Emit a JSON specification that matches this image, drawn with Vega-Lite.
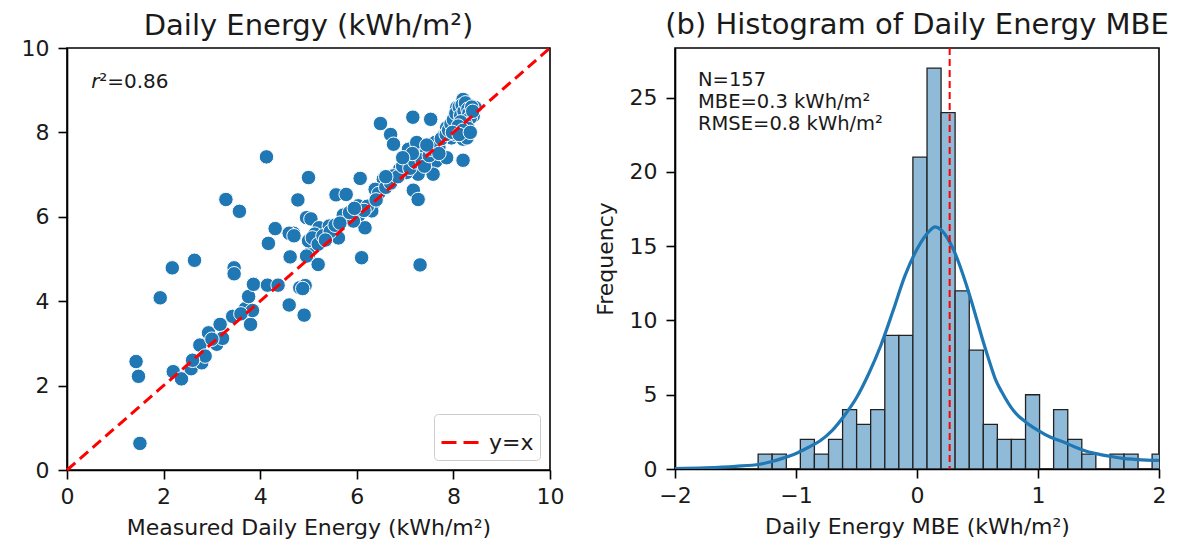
{
  "$schema": "https://vega.github.io/schema/vega-lite/v6.json",
  "padding": {"left": 20, "top": 10, "right": 6, "bottom": 5},
  "background": "white",
  "config": {
    "font": "DejaVu Sans",
    "view": {"stroke": "black", "strokeWidth": 1.6},
    "axis": {
      "labelFont": "DejaVu Sans", "labelFontSize": 22, "labelColor": "#1a1a1a", "labelFlush": false,
      "titleFont": "DejaVu Sans", "titleFontSize": 22, "titleFontWeight": "normal", "titleColor": "#1a1a1a",
      "tickColor": "black", "tickSize": 9, "tickWidth": 1.6,
      "domainColor": "black", "domainWidth": 1.6, "grid": false
    },
    "axisX": {"labelPadding": 7, "titlePadding": 10},
    "axisY": {"labelPadding": 9, "titlePadding": 12},
    "title": {"font": "DejaVu Sans", "fontSize": 29, "fontWeight": "normal", "color": "#1a1a1a", "offset": -4, "frame": "group"},
    "legend": {
      "orient": "bottom-right", "offset": 10, "fillColor": "white", "strokeColor": "#cccccc",
      "cornerRadius": 4, "padding": 6, "symbolType": "stroke", "symbolStrokeWidth": 3,
      "symbolDash": [15, 7], "symbolSize": 1764, "labelFont": "DejaVu Sans", "labelFontSize": 22,
      "labelColor": "#1a1a1a", "title": null
    }
  },
  "datasets": {
    "scatter": [
      {"m": 1.43, "p": 2.57}, {"m": 1.48, "p": 2.22}, {"m": 1.51, "p": 0.63}, {"m": 1.93, "p": 4.08},
      {"m": 2.18, "p": 4.79}, {"m": 2.64, "p": 4.97}, {"m": 2.20, "p": 2.33}, {"m": 2.37, "p": 2.16},
      {"m": 2.57, "p": 2.40}, {"m": 2.75, "p": 2.96}, {"m": 2.79, "p": 2.54}, {"m": 2.86, "p": 2.70},
      {"m": 2.93, "p": 3.25}, {"m": 3.10, "p": 2.98}, {"m": 3.17, "p": 3.45}, {"m": 3.22, "p": 3.12},
      {"m": 3.43, "p": 3.64}, {"m": 3.46, "p": 4.79}, {"m": 3.46, "p": 4.65}, {"m": 3.69, "p": 3.82},
      {"m": 3.76, "p": 4.11}, {"m": 3.80, "p": 3.45}, {"m": 3.84, "p": 3.78}, {"m": 3.86, "p": 4.40},
      {"m": 4.15, "p": 4.38}, {"m": 4.37, "p": 4.38}, {"m": 4.60, "p": 3.91}, {"m": 4.62, "p": 5.05},
      {"m": 4.82, "p": 4.32}, {"m": 4.91, "p": 3.67}, {"m": 4.93, "p": 4.37}, {"m": 5.00, "p": 5.11},
      {"m": 4.13, "p": 7.42}, {"m": 3.29, "p": 6.41}, {"m": 3.57, "p": 6.13}, {"m": 4.31, "p": 5.72},
      {"m": 4.69, "p": 5.61}, {"m": 4.60, "p": 5.61}, {"m": 4.17, "p": 5.37}, {"m": 4.78, "p": 6.40},
      {"m": 5.00, "p": 6.93}, {"m": 4.96, "p": 5.98}, {"m": 5.00, "p": 5.43}, {"m": 4.88, "p": 4.30},
      {"m": 6.49, "p": 8.21}, {"m": 6.70, "p": 7.95}, {"m": 6.76, "p": 7.72}, {"m": 7.16, "p": 8.36},
      {"m": 7.53, "p": 8.31}, {"m": 7.07, "p": 7.60}, {"m": 7.24, "p": 7.76}, {"m": 7.31, "p": 7.44},
      {"m": 7.45, "p": 7.56}, {"m": 7.62, "p": 7.76}, {"m": 7.64, "p": 7.32}, {"m": 7.86, "p": 7.40},
      {"m": 8.20, "p": 7.34}, {"m": 7.58, "p": 7.01}, {"m": 7.27, "p": 7.01}, {"m": 7.03, "p": 7.05},
      {"m": 6.89, "p": 7.13}, {"m": 6.76, "p": 6.97}, {"m": 6.55, "p": 6.89}, {"m": 6.38, "p": 6.65},
      {"m": 7.17, "p": 6.63}, {"m": 7.27, "p": 6.41}, {"m": 6.07, "p": 6.91}, {"m": 5.57, "p": 6.52},
      {"m": 5.78, "p": 6.53}, {"m": 6.03, "p": 6.26}, {"m": 6.34, "p": 6.30}, {"m": 6.31, "p": 6.14},
      {"m": 5.72, "p": 6.04}, {"m": 6.03, "p": 6.02}, {"m": 5.05, "p": 5.95}, {"m": 6.17, "p": 5.74},
      {"m": 5.93, "p": 5.90}, {"m": 5.22, "p": 5.74}, {"m": 5.43, "p": 5.78}, {"m": 5.13, "p": 5.59},
      {"m": 5.08, "p": 5.50}, {"m": 5.20, "p": 5.35}, {"m": 5.62, "p": 5.50}, {"m": 6.10, "p": 5.03},
      {"m": 7.31, "p": 4.86}, {"m": 5.20, "p": 4.87}, {"m": 4.96, "p": 5.07},
      {"m": 8.07, "p": 8.59}, {"m": 8.20, "p": 8.78}, {"m": 8.34, "p": 8.63}, {"m": 8.28, "p": 8.27},
      {"m": 8.10, "p": 8.39}, {"m": 8.03, "p": 8.11}, {"m": 7.86, "p": 8.11}, {"m": 7.79, "p": 7.91},
      {"m": 7.96, "p": 7.87}, {"m": 8.20, "p": 7.84}, {"m": 8.28, "p": 7.87}, {"m": 8.45, "p": 8.59},
      {"m": 8.41, "p": 8.39}, {"m": 8.14, "p": 8.51},
      {"m": 5.30, "p": 5.55}, {"m": 5.45, "p": 5.65}, {"m": 5.55, "p": 5.80}, {"m": 5.85, "p": 6.10},
      {"m": 6.22, "p": 6.25}, {"m": 6.45, "p": 6.55}, {"m": 6.60, "p": 6.70}, {"m": 6.70, "p": 6.80},
      {"m": 6.85, "p": 6.95}, {"m": 6.95, "p": 7.20}, {"m": 7.10, "p": 7.15}, {"m": 7.20, "p": 7.30},
      {"m": 7.35, "p": 7.35}, {"m": 7.40, "p": 7.20}, {"m": 7.50, "p": 7.45}, {"m": 7.55, "p": 7.60},
      {"m": 7.70, "p": 7.65}, {"m": 7.75, "p": 7.85}, {"m": 7.85, "p": 7.95}, {"m": 7.90, "p": 8.05},
      {"m": 7.95, "p": 8.20}, {"m": 8.00, "p": 8.30}, {"m": 8.05, "p": 8.45}, {"m": 8.12, "p": 8.60},
      {"m": 8.15, "p": 8.40}, {"m": 8.18, "p": 8.65}, {"m": 8.22, "p": 8.50}, {"m": 8.25, "p": 8.70},
      {"m": 8.30, "p": 8.55}, {"m": 8.32, "p": 8.45}, {"m": 8.35, "p": 8.35}, {"m": 8.38, "p": 8.60},
      {"m": 8.40, "p": 8.50}, {"m": 8.25, "p": 8.20}, {"m": 8.15, "p": 8.25}, {"m": 8.10, "p": 8.15},
      {"m": 8.30, "p": 8.10}, {"m": 8.20, "p": 8.05}, {"m": 8.05, "p": 7.95}, {"m": 7.98, "p": 8.00},
      {"m": 8.12, "p": 7.95}, {"m": 8.35, "p": 8.00}, {"m": 7.70, "p": 7.50}, {"m": 7.45, "p": 7.70},
      {"m": 7.15, "p": 7.50}, {"m": 6.95, "p": 7.40}, {"m": 6.60, "p": 6.95}, {"m": 6.40, "p": 6.40},
      {"m": 6.15, "p": 6.15}, {"m": 5.95, "p": 6.20}, {"m": 5.65, "p": 5.85}, {"m": 5.35, "p": 5.45},
      {"m": 4.70, "p": 5.55}, {"m": 3.60, "p": 3.70}, {"m": 3.00, "p": 3.10}, {"m": 2.60, "p": 2.60}
    ],
    "identity": [{"m": 0, "p": 0, "s": "y=x"}, {"m": 10, "p": 10, "s": "y=x"}],
    "r2": [{"m": 0.5, "p": 9.05}],
    "hist": [
      {"lo": -1.313, "hi": -1.197, "n": 1}, {"lo": -1.197, "hi": -1.080, "n": 1},
      {"lo": -0.964, "hi": -0.848, "n": 2}, {"lo": -0.848, "hi": -0.731, "n": 1},
      {"lo": -0.731, "hi": -0.615, "n": 2}, {"lo": -0.615, "hi": -0.499, "n": 4},
      {"lo": -0.499, "hi": -0.383, "n": 3}, {"lo": -0.383, "hi": -0.266, "n": 4},
      {"lo": -0.266, "hi": -0.150, "n": 9}, {"lo": -0.150, "hi": -0.034, "n": 9},
      {"lo": -0.034, "hi": 0.083, "n": 21}, {"lo": 0.083, "hi": 0.199, "n": 27},
      {"lo": 0.199, "hi": 0.315, "n": 24}, {"lo": 0.315, "hi": 0.432, "n": 12},
      {"lo": 0.432, "hi": 0.548, "n": 8}, {"lo": 0.548, "hi": 0.664, "n": 3},
      {"lo": 0.664, "hi": 0.780, "n": 2}, {"lo": 0.780, "hi": 0.897, "n": 2},
      {"lo": 0.897, "hi": 1.013, "n": 5}, {"lo": 1.129, "hi": 1.246, "n": 4},
      {"lo": 1.246, "hi": 1.362, "n": 2}, {"lo": 1.362, "hi": 1.478, "n": 1},
      {"lo": 1.595, "hi": 1.711, "n": 1}, {"lo": 1.711, "hi": 1.827, "n": 1},
      {"lo": 1.943, "hi": 2.060, "n": 1}
    ],
    "kde": [
      {"x": -2.0, "y": 0.03}, {"x": -1.75, "y": 0.08}, {"x": -1.5, "y": 0.18}, {"x": -1.3, "y": 0.32},
      {"x": -1.2, "y": 0.5}, {"x": -1.1, "y": 0.75}, {"x": -1.0, "y": 1.05}, {"x": -0.9, "y": 1.45},
      {"x": -0.8, "y": 1.9}, {"x": -0.7, "y": 2.6}, {"x": -0.6, "y": 3.6}, {"x": -0.5, "y": 4.8},
      {"x": -0.4, "y": 6.4}, {"x": -0.3, "y": 8.3}, {"x": -0.2, "y": 10.6}, {"x": -0.1, "y": 13.0},
      {"x": 0.0, "y": 14.8}, {"x": 0.1, "y": 16.0}, {"x": 0.15, "y": 16.3}, {"x": 0.2, "y": 16.1},
      {"x": 0.3, "y": 14.8}, {"x": 0.4, "y": 12.6}, {"x": 0.45, "y": 11.3}, {"x": 0.5, "y": 9.9},
      {"x": 0.55, "y": 8.5}, {"x": 0.6, "y": 7.2}, {"x": 0.65, "y": 6.0}, {"x": 0.7, "y": 5.2},
      {"x": 0.8, "y": 3.9}, {"x": 0.9, "y": 3.15}, {"x": 1.0, "y": 2.6}, {"x": 1.1, "y": 2.15},
      {"x": 1.2, "y": 1.85}, {"x": 1.3, "y": 1.5}, {"x": 1.4, "y": 1.2}, {"x": 1.5, "y": 1.0},
      {"x": 1.6, "y": 0.85}, {"x": 1.7, "y": 0.72}, {"x": 1.8, "y": 0.65}, {"x": 1.9, "y": 0.6},
      {"x": 2.0, "y": 0.58}
    ],
    "mbe": [{"x": 0.27}],
    "stats": [{"x": -1.81, "y": 25.8, "t": "N=157\nMBE=0.3 kWh/m²\nRMSE=0.8 kWh/m²"}]
  },
  "resolve": {"legend": {"color": "independent"}},
  "spacing": 28,
  "hconcat": [
    {
      "width": 483,
      "height": 422,
      "title": {"text": "Daily Energy (kWh/m²)", "offset": -4},
      "layer": [
        {
          "data": {"name": "scatter"},
          "mark": {"type": "point", "filled": true, "shape": "circle", "size": 210, "fill": "#1f77b4", "fillOpacity": 1, "stroke": "white", "strokeWidth": 1, "strokeOpacity": 1},
          "encoding": {
            "x": {"field": "m", "type": "quantitative", "scale": {"domain": [0, 10], "nice": false}, "axis": {"values": [0, 2, 4, 6, 8, 10], "title": "Measured Daily Energy (kWh/m²)"}},
            "y": {"field": "p", "type": "quantitative", "scale": {"domain": [0, 10], "nice": false}, "axis": {"values": [0, 2, 4, 6, 8, 10], "title": null}}
          }
        },
        {
          "data": {"name": "identity"},
          "mark": {"type": "line", "strokeWidth": 3, "strokeDash": [11, 6]},
          "encoding": {
            "x": {"field": "m", "type": "quantitative"},
            "y": {"field": "p", "type": "quantitative"},
            "color": {"field": "s", "type": "nominal", "scale": {"range": ["#ff0000"]}, "legend": {"title": null}}
          }
        },
        {
          "data": {"name": "r2"},
          "mark": {"type": "text", "text": "r", "fontStyle": "italic", "fontSize": 20, "align": "left", "baseline": "alphabetic", "color": "#1a1a1a"},
          "encoding": {"x": {"field": "m", "type": "quantitative"}, "y": {"field": "p", "type": "quantitative"}}
        },
        {
          "data": {"name": "r2"},
          "mark": {"type": "text", "text": "²=0.86", "fontSize": 20, "align": "left", "baseline": "alphabetic", "dx": 8, "color": "#1a1a1a"},
          "encoding": {"x": {"field": "m", "type": "quantitative"}, "y": {"field": "p", "type": "quantitative"}}
        }
      ]
    },
    {
      "width": 484,
      "height": 421,
      "title": {"text": "(b) Histogram of Daily Energy MBE", "offset": 7},
      "layer": [
        {
          "data": {"name": "hist"},
          "mark": {"type": "rect", "fill": "#8fbbd9", "stroke": "#222222", "strokeWidth": 1.3, "clip": true},
          "encoding": {
            "x": {"field": "lo", "type": "quantitative", "scale": {"domain": [-2, 2], "nice": false}, "axis": {"values": [-2, -1, 0, 1, 2], "format": "d", "title": "Daily Energy MBE (kWh/m²)"}},
            "x2": {"field": "hi"},
            "y": {"field": "n", "type": "quantitative", "scale": {"domain": [0, 28.35], "nice": false}, "axis": {"values": [0, 5, 10, 15, 20, 25], "title": "Frequency"}},
            "y2": {"datum": 0}
          }
        },
        {
          "data": {"name": "kde"},
          "mark": {"type": "line", "color": "#1f77b4", "strokeWidth": 3.2, "interpolate": "monotone", "clip": true},
          "encoding": {"x": {"field": "x", "type": "quantitative"}, "y": {"field": "y", "type": "quantitative"}}
        },
        {
          "data": {"name": "mbe"},
          "mark": {"type": "rule", "color": "#ff0000", "strokeWidth": 2, "strokeDash": [7, 4]},
          "encoding": {"x": {"field": "x", "type": "quantitative"}}
        },
        {
          "data": {"name": "stats"},
          "mark": {"type": "text", "fontSize": 19.5, "align": "left", "baseline": "alphabetic", "lineBreak": "\n", "lineHeight": 22, "color": "#1a1a1a"},
          "encoding": {"x": {"field": "x", "type": "quantitative"}, "y": {"field": "y", "type": "quantitative"}, "text": {"field": "t"}}
        }
      ]
    }
  ]
}
